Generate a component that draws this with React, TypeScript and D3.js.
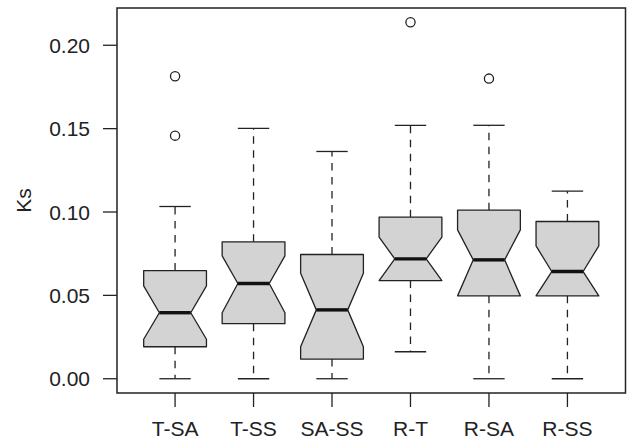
import React from "react";
import * as d3 from "d3";

const categories = ["T-SA", "T-SS", "SA-SS", "R-T", "R-SA", "R-SS"];
const lowerWhisker = [0, 0, 0, 0.0162, 0, 0];
const q1 = [0.0192, 0.033, 0.0118, 0.0589, 0.0497, 0.0497];
const median = [0.0396, 0.0571, 0.0413, 0.0719, 0.0713, 0.0643];
const q3 = [0.0649, 0.0821, 0.0745, 0.0969, 0.1011, 0.0943];
const upperWhisker = [0.1033, 0.1502, 0.1363, 0.152, 0.152, 0.1125];
const notchLow = [0.0237, 0.0396, 0.0192, 0.0589, 0.0497, 0.0497];
const notchHigh = [0.0557, 0.0737, 0.0633, 0.0849, 0.0893, 0.0797];
const outliers = [[0.1814, 0.1458], [], [], [0.2138], [0.18], []];
const yTicks = [0, 0.05, 0.1, 0.15, 0.2];

const W = 627, H = 446;
const margin = { top: 8, right: 1.5, bottom: 53, left: 117 };
const ink = "#222";
const font = "'Liberation Sans', Arial, Helvetica, sans-serif";

export default function App() {
  const plotR = W - margin.right;
  const plotB = H - margin.bottom;

  // R-style 4% padding around the data range
  const dmin = 0;
  const dmax = d3.max(outliers.flat().concat(upperWhisker)) as number;
  const pad = (dmax - dmin) * 0.04;
  const y = d3.scaleLinear().domain([dmin - pad, dmax + pad]).range([plotB, margin.top]);
  const x = d3.scalePoint().domain(categories).range([margin.left, plotR]).padding(0.74);

  const halfW = x.step() * 0.4;
  const capW = x.step() * 0.2;
  const fmt = d3.format(".2f");

  return (
    <div style={{ position: "absolute", left: 0, top: 0 }}>
      <svg width={W} height={H} style={{ display: "block", background: "#fff" }}>
        {categories.map((c, i) => {
          const cx = x(c) as number;
          const pts: [number, number][] = [
            [cx - halfW, y(q1[i])],
            [cx - halfW, y(notchLow[i])],
            [cx - halfW / 2, y(median[i])],
            [cx - halfW, y(notchHigh[i])],
            [cx - halfW, y(q3[i])],
            [cx + halfW, y(q3[i])],
            [cx + halfW, y(notchHigh[i])],
            [cx + halfW / 2, y(median[i])],
            [cx + halfW, y(notchLow[i])],
            [cx + halfW, y(q1[i])],
          ];
          const line = d3.line();
          return (
            <g key={c}>
              <line x1={cx} x2={cx} y1={y(q3[i])} y2={y(upperWhisker[i])}
                stroke={ink} strokeWidth={1.3} strokeDasharray="7.5,6.5" />
              <line x1={cx} x2={cx} y1={y(q1[i])} y2={y(lowerWhisker[i])}
                stroke={ink} strokeWidth={1.3} strokeDasharray="7.5,6.5" />
              <line x1={cx - capW} x2={cx + capW} y1={y(upperWhisker[i])} y2={y(upperWhisker[i])}
                stroke={ink} strokeWidth={1.3} />
              <line x1={cx - capW} x2={cx + capW} y1={y(lowerWhisker[i])} y2={y(lowerWhisker[i])}
                stroke={ink} strokeWidth={1.3} />
              <path d={line(pts) + "Z"} fill="#d3d3d3" stroke={ink} strokeWidth={1.3} strokeLinejoin="round" />
              <line x1={cx - halfW / 2} x2={cx + halfW / 2} y1={y(median[i])} y2={y(median[i])}
                stroke="#111" strokeWidth={3.4} />
              {outliers[i].map((v, j) => (
                <circle key={j} cx={cx} cy={y(v)} r={4.6} fill="none" stroke={ink} strokeWidth={1.3} />
              ))}
            </g>
          );
        })}

        <rect x={margin.left} y={margin.top} width={plotR - margin.left} height={plotB - margin.top}
          fill="none" stroke={ink} strokeWidth={1.5} />

        {yTicks.map((t) => (
          <g key={t}>
            <line x1={margin.left - 14} x2={margin.left} y1={y(t)} y2={y(t)} stroke={ink} strokeWidth={1.3} />
            <text x={margin.left - 27} y={y(t)} dy="0.36em" textAnchor="end"
              fontFamily={font} fontSize={21} fill={ink}>{fmt(t)}</text>
          </g>
        ))}

        {categories.map((c) => (
          <g key={c}>
            <line x1={x(c)} x2={x(c)} y1={plotB} y2={plotB + 14} stroke={ink} strokeWidth={1.3} />
            <text x={x(c)} y={436} textAnchor="middle" fontFamily={font} fontSize={21} fill={ink}>{c}</text>
          </g>
        ))}

        <text transform={`translate(31,${(margin.top + plotB) / 2}) rotate(-90)`} textAnchor="middle"
          fontFamily={font} fontSize={21} fill={ink}>Ks</text>
      </svg>
    </div>
  );
}
